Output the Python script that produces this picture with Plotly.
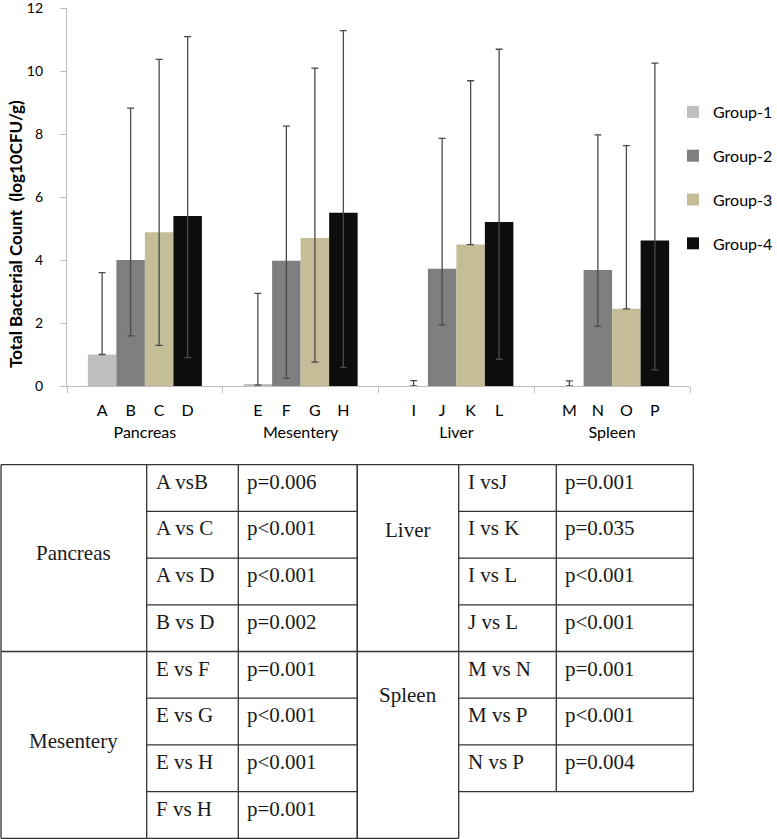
import plotly.graph_objects as go

# ---------------- data ----------------
organs = ["Pancreas", "Mesentery", "Liver", "Spleen"]
groups = ["Group-1", "Group-2", "Group-3", "Group-4"]
bar_letters = [["A", "B", "C", "D"],
               ["E", "F", "G", "H"],
               ["I", "J", "K", "L"],
               ["M", "N", "O", "P"]]  # per organ, per group

means = {
    "Group-1": [1.00, 0.05, 0.00, 0.00],
    "Group-2": [4.00, 3.98, 3.72, 3.68],
    "Group-3": [4.88, 4.70, 4.49, 2.45],
    "Group-4": [5.40, 5.50, 5.21, 4.62],
}
err_plus = {
    "Group-1": [2.60, 2.89, 0.17, 0.16],
    "Group-2": [4.82, 4.27, 4.14, 4.29],
    "Group-3": [5.49, 5.39, 5.20, 5.18],
    "Group-4": [5.69, 5.78, 5.48, 5.63],
}
err_minus = {
    "Group-1": [0.00, 0.02, 0.00, 0.00],
    "Group-2": [2.41, 3.74, 1.78, 1.78],
    "Group-3": [3.59, 3.94, 0.00, 0.00],
    "Group-4": [4.50, 4.91, 4.36, 4.11],
}
y_ticks = [0, 2, 4, 6, 8, 10, 12]

# table data
left_blocks = [
    ("Pancreas", ["A vsB", "A vs C", "A vs D", "B vs D"],
     ["p=0.006", "p<0.001", "p<0.001", "p=0.002"]),
    ("Mesentery", ["E vs F", "E vs G", "E vs H", "F vs H"],
     ["p=0.001", "p<0.001", "p<0.001", "p=0.001"]),
]
right_blocks = [
    ("Liver", ["I vsJ", "I vs K", "I vs L", "J vs L"],
     ["p=0.001", "p=0.035", "p<0.001", "p<0.001"]),
    ("Spleen", ["M vs N", "M vs P", "N vs P"],
     ["p=0.001", "p<0.001", "p=0.004"]),
]

# ---------------- styling ----------------
W, H = 777, 839
colors = ["#bfbfbf", "#7f7f7f", "#c4bd97", "#0d0d0d"]
FONT = "Lato"
SERIF = "Liberation Serif"
BARGAP = 0.268

def px(x):
    return x / W

def py(y):
    return 1 - y / H

fig = go.Figure()
for j, g in enumerate(groups):
    fig.add_trace(go.Bar(
        name=g, x=organs, y=means[g], legendgroup=g,
        marker=dict(color=colors[j], line=dict(width=0)),
        error_y=dict(type="data", symmetric=False, array=err_plus[g],
                     arrayminus=err_minus[g], color="#4a4a4a",
                     thickness=1.3, width=3.5),
    ))

# positions of the individual bars (for the letter labels) on a numeric twin axis
bar_w = (1 - BARGAP) / len(groups)
letter_vals, letter_text = [], []
for i in range(len(organs)):
    for j in range(len(groups)):
        letter_vals.append(i + (j - (len(groups) - 1) / 2) * bar_w)
        letter_text.append(bar_letters[i][j])

fig.add_trace(go.Scatter(x=letter_vals, y=[0] * len(letter_vals), xaxis="x2",
                         mode="markers", marker=dict(opacity=0),
                         showlegend=False, hoverinfo="skip"))

x0, x1 = 67, 690
y_top, y_bot = 8, 386
fig.update_layout(
    width=W, height=H,
    margin=dict(l=0, r=0, t=0, b=0, autoexpand=False),
    paper_bgcolor="white", plot_bgcolor="white",
    barmode="group", bargap=BARGAP, bargroupgap=0,
    font=dict(family=FONT, color="#000"),
    xaxis=dict(domain=[px(x0), px(x1)], range=[-0.5, 3.5], automargin=False,
               showline=True, linecolor="#bdbdbd", linewidth=1.2,
               ticks="outside", tickson="boundaries", ticklen=6,
               tickcolor="#bdbdbd", showgrid=False,
               tickfont=dict(size=16, family=FONT, color="#000"),
               ticklabelstandoff=32),
    xaxis2=dict(overlaying="x", anchor="y", side="bottom", range=[-0.5, 3.5],
                automargin=False,
                tickmode="array", tickvals=letter_vals, ticktext=letter_text,
                showline=False, ticks="", showgrid=False, zeroline=False,
                tickfont=dict(size=16, family=FONT, color="#000"),
                ticklabelstandoff=13),
    yaxis=dict(domain=[py(y_bot), py(y_top)], range=[0, 12.0001],
               automargin=False,
               tickmode="array", tickvals=y_ticks,
               showline=True, linecolor="#bdbdbd", linewidth=1.2,
               ticks="outside", ticklen=6, tickcolor="#bdbdbd",
               showgrid=False, zeroline=False, ticklabeloverflow="allow",
               tickfont=dict(size=14, family=FONT, color="#000"),
               ticklabelstandoff=14),
    legend=dict(x=px(673), y=py(95), xanchor="left", yanchor="top",
                font=dict(size=16, family=FONT, color="#000"),
                tracegroupgap=20, bgcolor="rgba(0,0,0,0)"),
    showlegend=True,
)

annotations = [dict(
    text="<b>Total Bacterial Count \u00a0(log10CFU/g)</b>", textangle=-90,
    x=px(15), y=py(234), xref="paper", yref="paper", showarrow=False,
    xanchor="center", yanchor="middle",
    font=dict(size=17, family=FONT, color="#000"))]

# ---------------- comparison table ----------------
T_TOP, ROW_H = 464.7, 46.7
LEFT_COLS = [1, 146.7, 238.3, 357.3]
RIGHT_COLS = [357.3, 458.7, 556.3, 693.3]
name_offsets = {"Pancreas": 88, "Mesentery": 89, "Liver": 65, "Spleen": 43}
ROW_TEXT_OFFSET = 17
LINE = dict(color="#333333", width=1.3)
shapes = []

def hline(xa, xb, y):
    shapes.append(dict(type="line", xref="paper", yref="paper",
                       x0=px(xa), x1=px(xb), y0=py(y), y1=py(y), line=LINE))

def vline(x, ya, yb):
    shapes.append(dict(type="line", xref="paper", yref="paper",
                       x0=px(x), x1=px(x), y0=py(ya), y1=py(yb), line=LINE))

def text(t, x, y, anchor):
    annotations.append(dict(text=t, x=px(x), y=py(y), xref="paper", yref="paper",
                            showarrow=False, xanchor=anchor, yanchor="middle",
                            font=dict(size=21, family=SERIF, color="#1a1a1a")))

def draw_table(blocks, cols):
    block_rows = 4
    hline(cols[0], cols[3], T_TOP)
    for b, (organ, comps, pvals) in enumerate(blocks):
        btop = T_TOP + b * block_rows * ROW_H
        bbot = btop + block_rows * ROW_H
        rows_bottom = btop + len(comps) * ROW_H
        # organ cell
        vline(cols[0], btop, bbot)
        vline(cols[1], btop, bbot)
        hline(cols[0], cols[1], bbot)
        text(organ, (cols[0] + cols[1]) / 2, btop + name_offsets[organ], "center")
        # comparison rows
        vline(cols[2], btop, rows_bottom)
        vline(cols[3], btop, rows_bottom)
        for r, (c, p) in enumerate(zip(comps, pvals)):
            rtop = btop + r * ROW_H
            hline(cols[1], cols[3], rtop + ROW_H)
            text(c, cols[1] + 7, rtop + ROW_TEXT_OFFSET, "left")
            text(p, cols[2] + 7, rtop + ROW_TEXT_OFFSET, "left")

draw_table(left_blocks, LEFT_COLS)
draw_table(right_blocks, RIGHT_COLS)

fig.update_layout(shapes=shapes, annotations=annotations)

fig.write_html("out.html", config={"displayModeBar": False},
               post_script="document.body.style.margin='0';")
